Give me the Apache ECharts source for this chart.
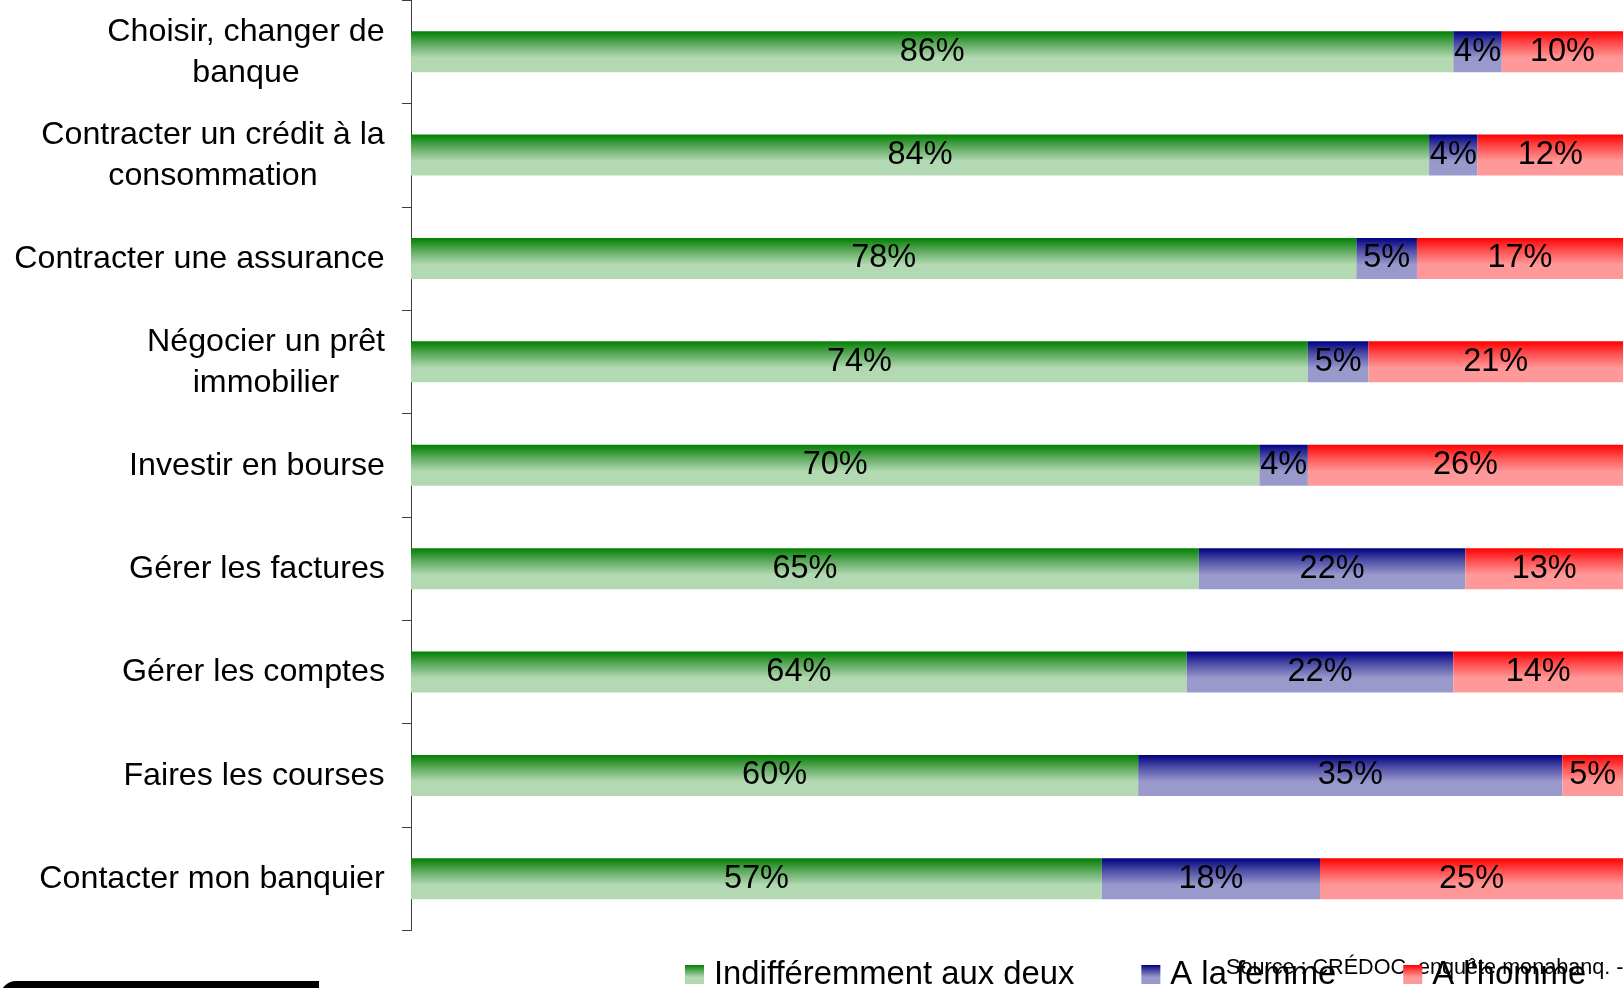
<!DOCTYPE html>
<html>
<head>
<meta charset="utf-8">
<script src="https://cdn.jsdelivr.net/npm/echarts@6/dist/echarts.min.js"></script>
<style>
  html, body { margin: 0; padding: 0; background: #fff; }
  #chart { width: 1623px; height: 988px; }
</style>
</head>
<body>
<div id="chart"></div>
<script>
// Tasks, top to bottom
const categories = [
  'Choisir, changer de\nbanque',
  'Contracter un crédit à la\nconsommation',
  'Contracter une assurance',
  'Négocier un prêt\nimmobilier',
  'Investir en bourse',
  'Gérer les factures',
  'Gérer les comptes',
  'Faires les courses',
  'Contacter mon banquier'
];

// Share of answers (%) per task
const indifferent = [86, 84, 78, 74, 70, 65, 64, 60, 57];
const woman = [4, 4, 5, 5, 4, 22, 22, 35, 18];
const man = [10, 12, 17, 21, 26, 13, 14, 5, 25];

const seriesNames = ['Indifféremment aux deux', 'A la femme', "A l'homme"];
const sourceText = 'Source : CRÉDOC, enquête monabanq. -';

const FONT = '"Liberation Sans", Arial, sans-serif';

// Vertical fade from the full colour at the top to a pale tint lower down
function fade(top, mid, bottom) {
  return {
    type: 'linear', x: 0, y: 0, x2: 0, y2: 1,
    colorStops: [
      { offset: 0, color: top },
      { offset: 0.3, color: mid },
      { offset: 0.65, color: bottom },
      { offset: 1, color: bottom }
    ]
  };
}

// Multi-line category labels: lines centred on each other, block right-aligned
const LABEL_SIZE = 32.2;
const measureCtx = document.createElement('canvas').getContext('2d');
measureCtx.font = LABEL_SIZE + 'px ' + FONT;
const rich = {};
categories.forEach(function (c, i) {
  const w = Math.max.apply(null, c.split('\n').map(function (l) { return measureCtx.measureText(l).width; }));
  rich['c' + i] = { width: Math.ceil(w), align: 'center', fontSize: LABEL_SIZE, lineHeight: 41, fontFamily: FONT, color: '#000', padding: [1, 0, 0, 0] };
});

const chart = echarts.init(document.getElementById('chart'));

const barLabel = {
  show: true,
  position: 'inside',
  formatter: '{c}%',
  color: '#000',
  fontSize: 32.5,
  fontFamily: FONT,
  padding: [3, 0, 0, 0]
};

function bar(name, data, color) {
  return {
    name: name,
    type: 'bar',
    stack: 'total',
    data: data,
    barWidth: 41,
    itemStyle: { color: color },
    label: barLabel,
    emphasis: { disabled: true }
  };
}

chart.setOption({
  animation: false,
  backgroundColor: '#fff',
  grid: { left: 411, right: 0, top: -1, bottom: 57.5 },
  xAxis: { type: 'value', min: 0, max: 100, show: false },
  yAxis: {
    type: 'category',
    inverse: true,
    data: categories,
    axisLine: { show: true, lineStyle: { color: '#404040', width: 1 } },
    axisTick: { show: true, inside: false, length: 9, lineStyle: { color: '#404040', width: 1 } },
    axisLabel: {
      margin: 26,
      formatter: function (value, index) {
        return value.split('\n').map(function (l) { return '{c' + index + '|' + l + '}'; }).join('\n');
      },
      rich: rich
    },
    splitLine: { show: false }
  },
  legend: {
    left: 685,
    top: 958,
    padding: 0,
    itemGap: 67,
    itemWidth: 19,
    itemHeight: 19,
    icon: 'rect',
    selectedMode: false,
    textStyle: { fontSize: 32.8, lineHeight: 33, color: '#000', fontFamily: FONT, padding: [0, 0, 0, 5] },
    data: seriesNames,
    z: 10
  },
  series: [
    bar(seriesNames[0], indifferent, fade('#008000', '#5aa85a', '#b3d9b3')),
    bar(seriesNames[1], woman, fade('#000080', '#4d4da6', '#9999cc')),
    bar(seriesNames[2], man, fade('#ff0000', '#ff4d4d', '#ff9999'))
  ],
  graphic: [
    {
      type: 'text',
      z: 1,
      x: 1226,
      y: 968,
      scaleX: 0.96,
      style: { x: 0, y: 0, text: sourceText, font: '22.5px ' + FONT, fill: '#000', verticalAlign: 'middle' }
    },
    {
      type: 'rect',
      z: 1,
      shape: { x: 0, y: 981, width: 319, height: 20, r: [16, 0, 0, 0] },
      style: { fill: '#000' }
    }
  ]
});
</script>
</body>
</html>
